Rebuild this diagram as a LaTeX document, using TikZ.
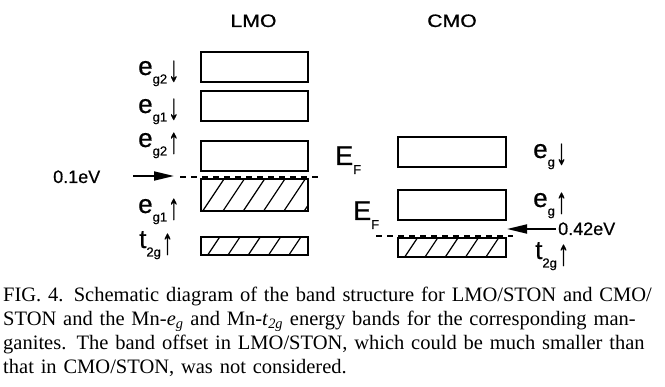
\documentclass[tikz,border=0pt]{standalone}
\usepackage{fontspec}
\setmainfont{Liberation Serif}
\setsansfont{Liberation Sans}
\newfontfamily\labfont[FakeBold=0.6]{Liberation Sans}
\usetikzlibrary{arrows.meta}
\newcommand\blab[3]{{\fontsize{26}{26}\selectfont #1}\raisebox{-8.5pt}{\fontsize{13}{13}\selectfont #2}\hspace{1pt}\raisebox{-6pt}{\scalebox{0.9}[1.45]{\fontsize{25}{25}\selectfont #3}}}
\newcommand\efermi{{\fontsize{27}{27}\selectfont E}\raisebox{-9pt}{\fontsize{13}{13}\selectfont F}}
\newcommand\hatchit[2]{%
 \begin{scope}
 \clip (#1.south west) rectangle (#1.north east);
 \foreach \k in {0,...,7} \draw[hatchline] ([xshift={#2+\k*20.3}]#1.south west) -- ++(26,-39);
 \end{scope}}
\begin{document}
\begin{tikzpicture}[x=1pt,y=-1pt,
  band/.style={draw, line width=1.8pt, inner sep=0pt, minimum width=107pt},
  hatchline/.style={line width=1.2pt},
  lab/.style={font=\labfont, inner sep=0pt, anchor=base west},
  title/.style={font=\labfont\fontsize{18}{18}\selectfont, inner sep=0pt, anchor=base},
  fermi/.style={line width=2pt, dash pattern=on 6pt off 5pt},
  bigarrow/.style={line width=1.8pt, -{Triangle[length=20pt,width=9pt]}},
]
\useasboundingbox (0,0) rectangle (665,387);

% titles
\node[title] (tl) at (253.5,27) {\scalebox{1.18}[1]{LMO}};
\node[title] (tc) at (452,27) {\scalebox{1.18}[1]{CMO}};

% LMO bands
\node[band, minimum height=30pt] (l1) at (254.5,67) {};
\node[band, minimum height=30pt] (l2) at (254.5,106) {};
\node[band, minimum height=30pt] (l3) at (254.5,156) {};
\node[band, minimum height=32pt] (l4) at (254.5,195) {};
\node[band, minimum height=18pt] (l5) at (254.5,246) {};
\hatchit{l4}{2}
\hatchit{l5}{7}

% CMO bands
\node[band, minimum width=108pt, minimum height=30pt] (c1) at (452,152) {};
\node[band, minimum width=108pt, minimum height=30pt] (c2) at (452,205) {};
\node[band, minimum width=108pt, minimum height=19pt] (c3) at (452,247.5) {};
\hatchit{c3}{7}

% Fermi levels
\coordinate (fl1) at (180,177);
\coordinate (fl2) at (318,177);
\draw[fermi] (fl1) -- (fl2);
\coordinate (fc1) at (376,236);
\coordinate (fc2) at (513,236);
\draw[fermi] (fc1) -- (fc2);

% LMO labels
\node[lab] (le1) at (138,75) {\blab{e}{g2}{↓}};
\node[lab] (le2) at (138,113) {\blab{e}{g1}{↓}};
\node[lab] (le3) at (138,147) {\blab{e}{g2}{↑}};
\node[lab] (le4) at (138,213) {\blab{e}{g1}{↑}};
\node[lab] (lt) at (139,248) {\blab{t}{2g}{↑}};

% CMO labels
\node[lab] (ce1) at (533,158) {\blab{e}{g}{↓}};
\node[lab] (ce2) at (533,207) {\blab{e}{g}{↑}};
\node[lab] (ct) at (535,259) {\blab{t}{2g}{↑}};

% E_F labels
\node[lab] (ef1) at (335,165) {\efermi};
\node[lab] (ef2) at (353,220) {\efermi};

% energy offsets
\node[lab, font=\labfont\fontsize{18}{18}\selectfont] (v1) at (53,183) {0.1eV};
\coordinate (a1s) at (133,176);
\coordinate (a1e) at (174,176);
\draw[bigarrow] (a1s) -- (a1e);
\node[lab, font=\labfont\fontsize{18}{18}\selectfont] (v2) at (558,235) {0.42eV};
\coordinate (a2s) at (556,229);
\coordinate (a2e) at (507,229);
\draw[bigarrow] (a2s) -- (a2e);

% caption
\node[anchor=north west, inner sep=0pt, text width=659pt,
      font=\fontsize{20.5}{24}\selectfont] (cap) at (3,287)
 {\noindent FIG. 4. Schematic diagram of the band structure for LMO/STON and CMO/\linebreak
 STON and the Mn-\textit{e}\textsubscript{\textit{g}} and Mn-\textit{t}\textsubscript{\textit{2g}} energy bands for the corresponding man-\linebreak
 ganites. The band offset in LMO/STON, which could be much smaller than\linebreak
 that in CMO/STON, was not considered.};
\end{tikzpicture}
\end{document}
